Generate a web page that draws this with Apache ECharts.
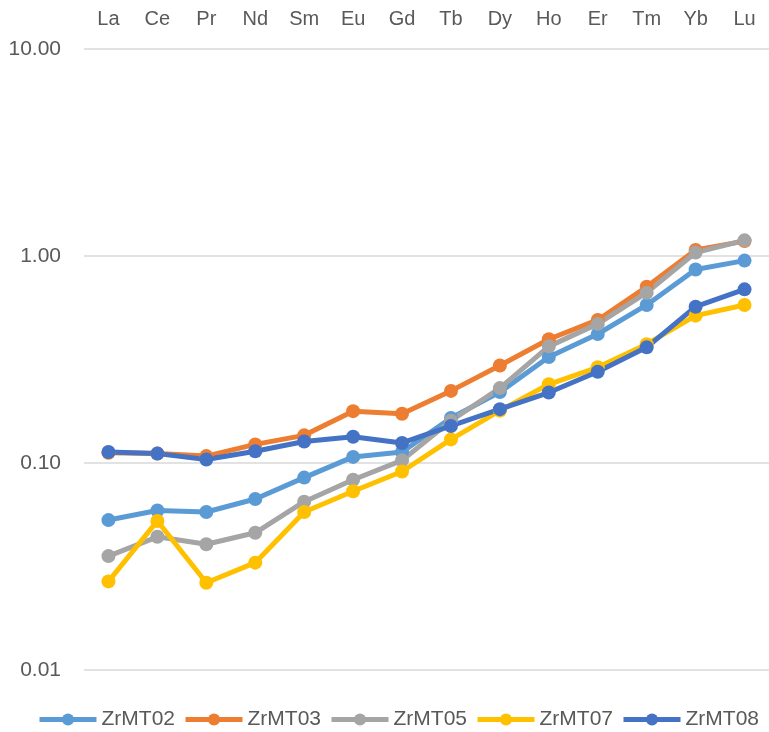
<!DOCTYPE html>
<html>
<head>
    <meta charset="utf-8">
    <title>REE pattern</title>
    <script src="https://cdn.jsdelivr.net/npm/echarts@6/dist/echarts.min.js"></script>
</head>
<body style="margin:0;">
<div id="main" style="width: 769px;height:732px;"></div>
<script type="text/javascript">
    // rare earth elements, top axis
    var elements = ['La', 'Ce', 'Pr', 'Nd', 'Sm', 'Eu', 'Gd', 'Tb', 'Dy', 'Ho', 'Er', 'Tm', 'Yb', 'Lu'];

    var zrMT02 = [0.053, 0.059, 0.058, 0.067, 0.085, 0.107, 0.113, 0.165, 0.220, 0.325, 0.420, 0.580, 0.860, 0.950];
    var zrMT03 = [0.112, 0.111, 0.108, 0.123, 0.136, 0.178, 0.173, 0.223, 0.296, 0.396, 0.491, 0.710, 1.07, 1.18];
    var zrMT05 = [0.0355, 0.044, 0.0405, 0.046, 0.065, 0.083, 0.103, 0.160, 0.230, 0.366, 0.470, 0.665, 1.04, 1.19];
    var zrMT07 = [0.0268, 0.0525, 0.0264, 0.033, 0.058, 0.073, 0.091, 0.130, 0.179, 0.240, 0.290, 0.375, 0.515, 0.580];
    var zrMT08 = [0.113, 0.111, 0.104, 0.114, 0.127, 0.134, 0.125, 0.151, 0.182, 0.219, 0.276, 0.362, 0.569, 0.690];

    var sampleNames = ['ZrMT02', 'ZrMT03', 'ZrMT05', 'ZrMT07', 'ZrMT08'];
    var sampleData = [zrMT02, zrMT03, zrMT05, zrMT07, zrMT08];
    var colors = ['#5B9BD5', '#ED7D31', '#A5A5A5', '#FFC000', '#4472C4'];

    var font = 'Liberation Sans';

    var series = sampleNames.map(function (name, i) {
        return {
            name: name,
            type: 'line',
            data: sampleData[i],
            symbol: 'circle',
            symbolSize: 14,
            lineStyle: { width: 5, color: colors[i] },
            itemStyle: { color: colors[i] },
            emphasis: { disabled: true }
        };
    });

    var chart = echarts.init(document.getElementById('main'));
    var option = {
        animation: false,
        color: colors,
        grid: { left: 84, right: 0, top: 49, bottom: 62, containLabel: false },
        legend: {
            bottom: -3,
            left: 32,
            width: 737,
            itemWidth: 57,
            itemHeight: 15,
            itemGap: 8,
            lineStyle: { width: 5 },
            textStyle: { fontFamily: font, fontSize: 21, color: '#595959' },
            data: sampleNames
        },
        xAxis: {
            type: 'category',
            position: 'top',
            data: elements,
            boundaryGap: true,
            axisLine: { show: false },
            axisTick: { show: false },
            axisLabel: { fontFamily: font, fontSize: 20, color: '#595959', margin: 20 }
        },
        yAxis: {
            type: 'log',
            logBase: 10,
            min: 0.01,
            max: 10,
            axisLine: { show: false },
            axisTick: { show: false },
            splitLine: { lineStyle: { color: '#D9D9D9', width: 1.5 } },
            axisLabel: {
                fontFamily: font, fontSize: 21, color: '#595959', margin: 23,
                formatter: function (v) { return Number(v).toFixed(2); }
            }
        },
        series: series
    };
    chart.setOption(option);
</script>
</body>
</html>
